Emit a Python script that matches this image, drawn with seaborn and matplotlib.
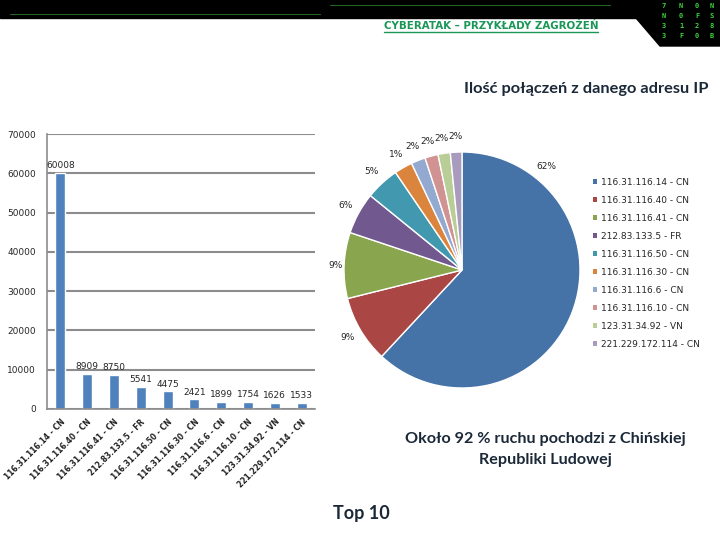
import numpy as np
import pandas as pd
import seaborn as sns
import matplotlib.pyplot as plt
from matplotlib.patches import Patch, Polygon, Rectangle

# Top 10 IP addresses and number of connections
ip_labels = ["116.31.116.14 - CN", "116.31.116.40 - CN", "116.31.116.41 - CN",
             "212.83.133.5 - FR", "116.31.116.50 - CN", "116.31.116.30 - CN",
             "116.31.116.6 - CN", "116.31.116.10 - CN", "123.31.34.92 - VN",
             "221.229.172.114 - CN"]
connections = [60008, 8909, 8750, 5541, 4475, 2421, 1899, 1754, 1626, 1533]
pie_pct_labels = ["62%", "9%", "9%", "6%", "5%", "1%", "2%", "2%", "2%", "2%"]
y_ticks = [0, 10000, 20000, 30000, 40000, 50000, 60000, 70000]

pie_colors = ["#4572A7", "#AA4643", "#89A54E", "#71588F", "#4198AF",
              "#DB843D", "#93A9CF", "#D19392", "#B9CD96", "#A99BBD"]
navy = "#1B2838"
grid_gray = "#8C8C8C"

sns.set_style("white")
plt.rcParams['font.family'] = ['DejaVu Sans']

df = pd.DataFrame({"ip": ip_labels, "count": connections})

fig = plt.figure(figsize=(7.2, 5.4), dpi=100)

# background layer in pixel coordinates (banner and slide texts)
bg = fig.add_axes([0, 0, 1, 1], zorder=-10)
bg.set_xlim(0, 720)
bg.set_ylim(540, 0)
bg.axis("off")
bg.add_patch(Rectangle((0, 0), 720, 18, color="black"))
bg.add_patch(Polygon([(636, 0), (636, 18), (660, 46), (720, 46), (720, 0)], color="black"))
bg.plot([10, 320], [14, 14], color="#2E7D32", lw=0.8, alpha=0.8)
bg.plot([330, 610], [5, 5], color="#2E7D32", lw=0.8, alpha=0.8)
for cx, chars in zip([664, 681, 697, 712], ["7N33", "N01F", "0F20", "NS8B"]):
    for k, ch in enumerate(chars):
        bg.text(cx, 6 + k * 10, ch, color="#3CD33C", fontsize=5, ha="center",
                va="center", family="DejaVu Sans Mono", fontweight="bold")

header = bg.text(598, 25.5, "CYBERATAK – PRZYKŁADY ZAGROŻEŃ", ha="right", va="center",
                 fontsize=7.4, fontweight="bold", color="#1A9656")

bg.text(709, 89, "Ilość połączeń z danego adresu IP", ha="right", va="center",
        fontsize=11.8, fontweight="bold", color=navy, family="Lato")
bg.text(545, 439, "Około 92 % ruchu pochodzi z Chińskiej", ha="center", va="center",
        fontsize=11.6, fontweight="bold", color=navy, family="Lato")
bg.text(545, 460, "Republiki Ludowej", ha="center", va="center",
        fontsize=11.6, fontweight="bold", color=navy, family="Lato")
bg.text(361, 513, "Top 10", ha="center", va="center",
        fontsize=13, fontweight="bold", color=navy, family="Lato")

# bar chart
ax = fig.add_axes([47 / 720, 1 - 409 / 540, 268 / 720, 275 / 540])
sns.barplot(data=df, x="ip", y="count", color="#4F81BD", saturation=1,
            width=0.38, ax=ax)
ax.set_xlim(-0.5, len(ip_labels) - 0.5)
ax.set_ylim(0, 70000)
ax.set_yticks(y_ticks)
ax.set_yticklabels([str(v) for v in y_ticks], fontsize=6.5)
ax.yaxis.grid(True, color=grid_gray, lw=1.5)
ax.set_axisbelow(True)
ax.set_xlabel("")
ax.set_ylabel("")
for s in ["top", "right"]:
    ax.spines[s].set_visible(False)
for s in ["left", "bottom"]:
    ax.spines[s].set_color(grid_gray)
    ax.spines[s].set_linewidth(1.2)
ax.set_xticks(range(len(ip_labels)))
ax.set_xticklabels(ip_labels, rotation=45, ha="right", rotation_mode="anchor",
                   fontsize=5.5, fontweight="bold", color="#222222")
ax.set_xticks(np.arange(-0.5, len(ip_labels)), minor=True)
ax.tick_params(axis="x", which="major", length=0, pad=6)
ax.tick_params(axis="x", which="minor", length=4, color=grid_gray, width=1.2)
ax.tick_params(axis="y", length=0, pad=8)
ax.bar_label(ax.containers[0], labels=[str(v) for v in connections],
             padding=2, fontsize=6.5)

# pie chart
pax = fig.add_axes([344 / 720, 1 - 388 / 540, 236 / 720, 236 / 540])
wedges, _ = pax.pie(connections, colors=pie_colors, startangle=90, counterclock=False,
                    wedgeprops=dict(edgecolor="white", linewidth=1))
pax.set_xlim(-1, 1)
pax.set_ylim(-1, 1)
pax.set_aspect("equal")
for i, (w, lab) in enumerate(zip(wedges, pie_pct_labels)):
    ang = np.deg2rad(51 if i == 0 else (w.theta1 + w.theta2) / 2)
    r = 1.07 if i == 2 else 1.13
    pax.text(r * np.cos(ang), r * np.sin(ang), lab, ha="center", va="center",
             fontsize=6.5, clip_on=False)

handles = [Patch(facecolor=c, edgecolor="none") for c in pie_colors]
fig.legend(handles, ip_labels, loc="upper left", bbox_to_anchor=(588 / 720, 1 - 173 / 540),
           frameon=False, fontsize=6.5, handlelength=0.55, handleheight=0.55,
           handletextpad=0.35, labelspacing=1.0, borderpad=0)

# underline the header
fig.canvas.draw()
bb = header.get_window_extent().transformed(bg.transData.inverted())
bg.plot([bb.x0, bb.x1], [31.5, 31.5], color="#1A9656", lw=1)

fig.savefig("out.png", dpi=100)
